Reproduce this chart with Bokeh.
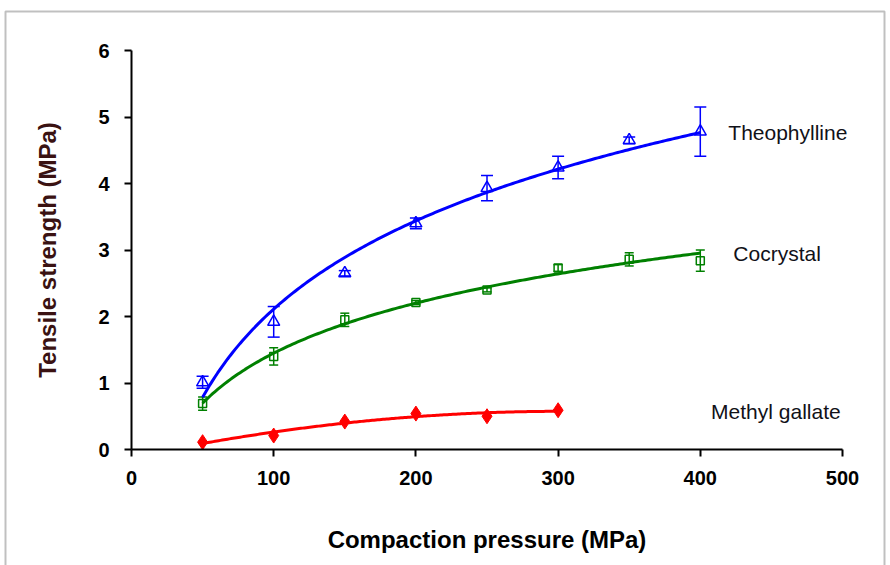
import numpy as np
from bokeh.plotting import figure
from bokeh.models import (ColumnDataSource, Range1d, FixedTicker, Whisker, TeeHead,
                          Label, BoxAnnotation)
from bokeh.embed import file_html
from bokeh.resources import INLINE

# ---- data ----
pressure = [50, 100, 150, 200, 250, 300, 350, 400]
theophylline = [1.01, 1.92, 2.65, 3.40, 3.93, 4.24, 4.65, 4.78]
theophylline_err = [0.09, 0.23, 0.04, 0.08, 0.19, 0.17, 0.05, 0.37]
cocrystal = [0.69, 1.40, 1.95, 2.21, 2.40, 2.73, 2.86, 2.84]
cocrystal_err = [0.10, 0.13, 0.10, 0.03, 0.03, 0.05, 0.10, 0.16]
mg_pressure = [50, 100, 150, 200, 250, 300]
methyl_gallate = [0.11, 0.21, 0.42, 0.54, 0.50, 0.59]
x_ticks = [0, 100, 200, 300, 400, 500]
y_ticks = [0, 1, 2, 3, 4, 5, 6]
series_names = ["Theophylline", "Cocrystal", "Methyl gallate"]

FONT = "Liberation Sans"
BLUE = "#0000FF"
GREEN = "#008000"
RED = "#FF0000"

# ---- layout geometry (pixels) ----
W, H = 890, 565
AX_LEFT, AX_RIGHT, AX_TOP, AX_BOTTOM = 131, 842, 50, 449
X0, X1 = x_ticks[0], x_ticks[-1]
Y0, Y1 = y_ticks[0], y_ticks[-1]
xs_per_px = (X1 - X0) / (AX_RIGHT - AX_LEFT)
ys_per_px = (Y1 - Y0) / (AX_BOTTOM - AX_TOP)
x_range = Range1d(X0 - AX_LEFT * xs_per_px, X1 + (W - AX_RIGHT) * xs_per_px)
y_range = Range1d(Y0 - (H - AX_BOTTOM) * ys_per_px, Y1 + AX_TOP * ys_per_px)

p = figure(width=W, height=H, output_backend="svg", toolbar_location=None,
           x_range=x_range, y_range=y_range,
           min_border_left=0, min_border_right=0,
           min_border_top=0, min_border_bottom=0,
           background_fill_color="white", border_fill_color="white")
p.outline_line_color = None
p.xgrid.visible = False
p.ygrid.visible = False

for ax in (p.xaxis, p.yaxis):
    ax.axis_line_width = 2
    ax.axis_line_color = "black"
    ax.major_tick_line_width = 2
    ax.major_tick_line_color = "black"
    ax.major_tick_in = 0
    ax.major_tick_out = 7
    ax.minor_tick_line_color = None
    ax.major_label_text_font = FONT
    ax.major_label_text_font_style = "bold"
    ax.major_label_text_font_size = "20px"
    ax.major_label_text_color = "black"
    ax.axis_label_text_font = FONT
    ax.axis_label_text_font_style = "bold"
    ax.axis_label_text_font_size = "24px"

p.xaxis.ticker = FixedTicker(ticks=x_ticks)
p.yaxis.ticker = FixedTicker(ticks=y_ticks)
p.xaxis.fixed_location = Y0
p.yaxis.fixed_location = X0
p.xaxis.bounds = (X0, X1)
p.yaxis.bounds = (Y0, Y1)
p.xaxis.axis_label = "Compaction pressure (MPa)"
p.yaxis.axis_label = "Tensile strength (MPa)"
p.xaxis.axis_label_text_color = "black"
p.yaxis.axis_label_text_color = "#3a1212"
p.xaxis.major_label_standoff = 14
p.yaxis.major_label_standoff = 15
p.xaxis.axis_label_standoff = 38
p.yaxis.axis_label_standoff = 34


def log_fit(xs, ys, n=200):
    a, b = np.polyfit(np.log(xs), ys, 1)
    xx = np.linspace(min(xs), max(xs), n)
    return xx, a * np.log(xx) + b


def poly2_fit(xs, ys, n=200):
    c = np.polyfit(xs, ys, 2)
    xx = np.linspace(min(xs), max(xs), n)
    return xx, np.polyval(c, xx)


def add_errors(xs, ys, errs, color, cap):
    src = ColumnDataSource(dict(x=xs,
                                upper=[y + e for y, e in zip(ys, errs)],
                                lower=[y - e for y, e in zip(ys, errs)]))
    w = Whisker(base="x", upper="upper", lower="lower", source=src,
                line_color=color, line_width=1.5,
                upper_head=TeeHead(size=cap, line_color=color, line_width=1.5),
                lower_head=TeeHead(size=cap, line_color=color, line_width=1.5))
    p.add_layout(w)


# error bars
add_errors(pressure, theophylline, theophylline_err, BLUE, 12)
add_errors(pressure, cocrystal, cocrystal_err, GREEN, 9)

# markers
p.scatter(pressure, theophylline, marker="triangle", size=12, fill_color=None,
          line_color=BLUE, line_width=1.5)
p.scatter(pressure, cocrystal, marker="square", size=8, fill_color=None,
          line_color=GREEN, line_width=1.5)

# fitted trend lines
tx, ty = log_fit(pressure, theophylline)
cx, cy = log_fit(pressure, cocrystal)
mx, my = poly2_fit(mg_pressure, methyl_gallate)
p.line(tx, ty, line_color=BLUE, line_width=3)
p.line(cx, cy, line_color=GREEN, line_width=3)
p.line(mx, my, line_color=RED, line_width=3)

p.scatter(mg_pressure, methyl_gallate, marker="diamond", size=15,
          fill_color=RED, line_color=RED, line_width=1)

# series labels next to the curve ends
label_anchor = [(tx[-1], ty[-1], 28), (cx[-1], cy[-1], 33), (mx[-1], my[-1], 153)]
for name, (lx, ly, off) in zip(series_names, label_anchor):
    p.add_layout(Label(x=lx, y=ly, text=name, x_offset=off,
                       text_font=FONT, text_font_size="21px",
                       text_color="#111118", text_baseline="middle",
                       text_align="left"))

# outer chart border
p.add_layout(BoxAnnotation(left=5, right=884, top=11, bottom=H + 40,
                           left_units="canvas", right_units="canvas",
                           top_units="canvas", bottom_units="canvas",
                           fill_alpha=0, fill_color=None,
                           line_color="#303030", line_width=2))

open("out.html", "w").write(file_html(p, INLINE))
